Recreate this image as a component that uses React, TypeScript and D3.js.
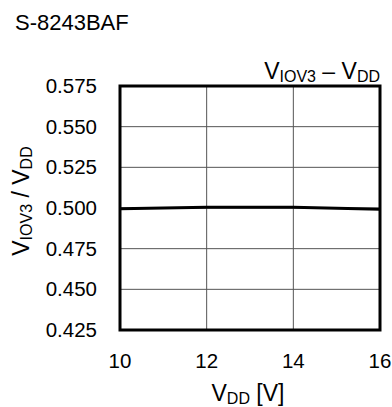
import React from "react";
import * as d3 from "d3";

const xValues = [10, 12, 14, 16];
const yValues = [0.4995, 0.5004, 0.5004, 0.4992];
const xTicks = [10, 12, 14, 16];
const yTicks = [0.425, 0.45, 0.475, 0.5, 0.525, 0.55, 0.575];

export default function App() {
  const W = 392, H = 407;
  const left = 120, right = 380, top = 86, bottom = 330;
  const x = d3.scaleLinear().domain([10, 16]).range([left, right]);
  const y = d3.scaleLinear().domain([0.425, 0.575]).range([bottom, top]);
  const line = d3.line<number>().x((_, i) => x(xValues[i])).y((d) => y(d));
  const font = "Arial, 'Liberation Sans', sans-serif";
  return (
    <svg width={W} height={H} style={{ position: "absolute", left: 0, top: 0 }} fontFamily={font}>
      <rect width={W} height={H} fill="#fff" />
      <text x={15} y={30} fontSize={22}>S-8243BAF</text>
      <text x={380} y={79} fontSize={23} textAnchor="end">
        V<tspan fontSize={16} dy={3}>IOV3</tspan><tspan dy={-3}>{"\u00a0\u2013\u00a0V"}</tspan><tspan fontSize={16} dy={3}>DD</tspan>
      </text>
      {xTicks.slice(1, -1).map((t) => (
        <line key={"gx" + t} x1={x(t)} x2={x(t)} y1={top} y2={bottom} stroke="#555" strokeWidth={1} />
      ))}
      {yTicks.slice(1, -1).map((t) => (
        <line key={"gy" + t} x1={left} x2={right} y1={y(t)} y2={y(t)} stroke="#555" strokeWidth={1} />
      ))}
      <path d={line(yValues) || ""} fill="none" stroke="#000" strokeWidth={3} />
      <rect x={left} y={top} width={right - left} height={bottom - top} fill="none" stroke="#000" strokeWidth={3} />
      {yTicks.map((t) => (
        <text key={"ty" + t} x={97} y={y(t) + 7} fontSize={20.5} textAnchor="end">{t.toFixed(3)}</text>
      ))}
      {xTicks.map((t) => (
        <text key={"tx" + t} x={x(t)} y={368} fontSize={20.5} textAnchor="middle">{t}</text>
      ))}
      <text x={248} y={401} fontSize={23} textAnchor="middle">
        V<tspan fontSize={16} dy={3}>DD</tspan><tspan dy={-3}>{"\u00a0[V]"}</tspan>
      </text>
      <text transform={`translate(29, 201) rotate(-90)`} fontSize={23} textAnchor="middle">
        V<tspan fontSize={16} dy={3}>IOV3</tspan><tspan dy={-3}>{"\u00a0/\u00a0V"}</tspan><tspan fontSize={16} dy={3}>DD</tspan>
      </text>
    </svg>
  );
}
